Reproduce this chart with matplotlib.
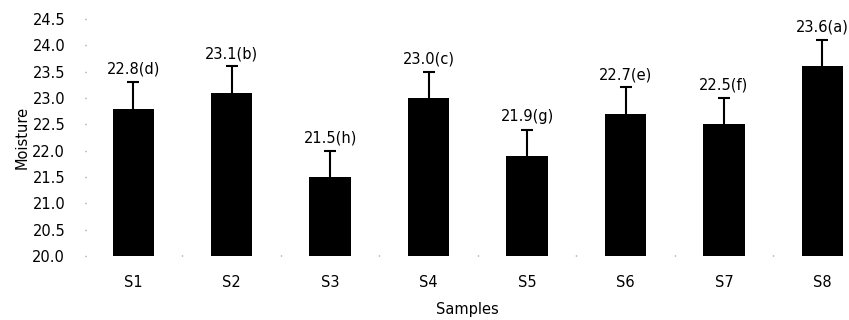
import matplotlib.pyplot as plt
import numpy as np

samples = ['S1', 'S2', 'S3', 'S4', 'S5', 'S6', 'S7', 'S8']
moisture = [22.8, 23.1, 21.5, 23.0, 21.9, 22.7, 22.5, 23.6]
errors = [0.5, 0.5, 0.5, 0.5, 0.5, 0.5, 0.5, 0.5]
letters = ['d', 'b', 'h', 'c', 'g', 'e', 'f', 'a']

fig = plt.figure(figsize=(8.49, 3.2), dpi=100)
ax = fig.add_axes([0.1013, 0.2, 0.8987, 0.7406])

x = np.arange(len(samples))
base = 20.0
heights = [v - base for v in moisture]
ax.bar(x, heights, bottom=base, width=0.42, color='black', zorder=3)
# lower half hidden behind the bars
ax.errorbar(x, moisture, yerr=errors, fmt='none', ecolor='black',
            elinewidth=1.5, capsize=4.5, capthick=1.5, zorder=2)

for xi, v, e, l in zip(x, moisture, errors, letters):
    ax.text(xi, v + e + 0.1, '%.1f(%s)' % (v, l), ha='center', va='bottom', fontsize=10.5)

ax.set_xlim(-0.48, 7.27)
ax.set_ylim(20.0, 24.5)
ticks = np.arange(20.0, 24.51, 0.5)
ax.set_yticks(ticks)
ax.set_yticklabels(['%.1f' % t for t in ticks], fontsize=10.5)
ax.set_xticks(x)
ax.set_xticklabels(samples, fontsize=10.5)
ax.set_xticks(x[:-1] + 0.5, minor=True)
ax.tick_params(axis='y', length=1, width=1, color='#888888', pad=14)
ax.tick_params(axis='x', which='major', length=0, pad=14)
ax.tick_params(axis='x', which='minor', length=1, width=1, color='#888888', direction='in')
for s in ax.spines.values():
    s.set_visible(False)

ax.set_xlabel('Samples', fontsize=10.5, labelpad=8)
ax.set_ylabel('Moisture', fontsize=10.5, labelpad=2)

fig.savefig('out.png', dpi=100)
